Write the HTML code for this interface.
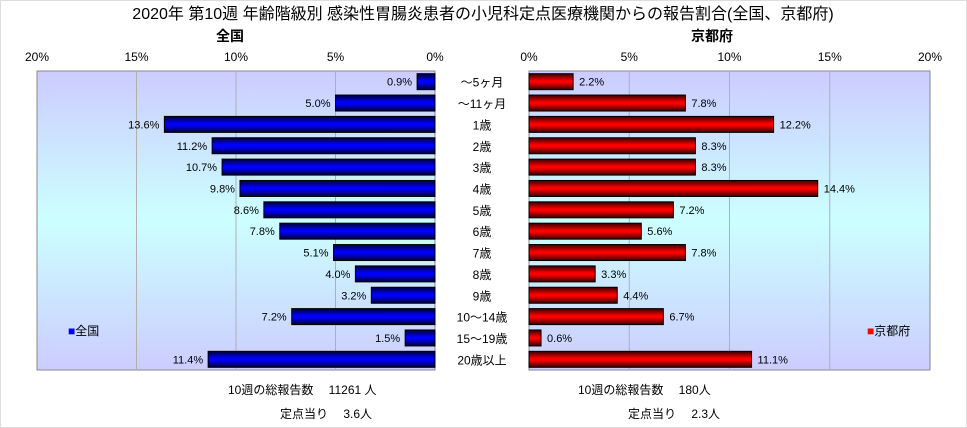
<!DOCTYPE html>
<html><head><meta charset="utf-8"><style>
body{margin:0;background:#fff;}
svg{display:block;font-family:"Liberation Sans","Noto Sans CJK JP",sans-serif;}
</style></head><body>
<svg id="chart" width="967" height="428">
<defs>
<linearGradient id="bg" x1="0" y1="0" x2="0" y2="1">
<stop offset="0" stop-color="#ccccff"/><stop offset="0.5" stop-color="#ccffff"/><stop offset="1" stop-color="#ccccff"/>
</linearGradient>
<linearGradient id="gb" x1="0" y1="0" x2="0" y2="1">
<stop offset="0" stop-color="#000033"/><stop offset="0.45" stop-color="#0000ff"/><stop offset="0.55" stop-color="#0000ff"/><stop offset="1" stop-color="#000033"/>
</linearGradient>
<linearGradient id="gr" x1="0" y1="0" x2="0" y2="1">
<stop offset="0" stop-color="#330000"/><stop offset="0.45" stop-color="#ff0000"/><stop offset="0.55" stop-color="#ff0000"/><stop offset="1" stop-color="#330000"/>
</linearGradient>
</defs>
<rect x="0.5" y="0.5" width="966" height="427" fill="#fff" stroke="#dddddd"/>
<text x="483" y="19" font-size="16" text-anchor="middle">2020年 第10週 年齢階級別 感染性胃腸炎患者の小児科定点医療機関からの報告割合(全国、京都府)</text>
<text x="230" y="41" font-size="14" font-weight="bold" text-anchor="middle">全国</text>
<text x="712" y="41" font-size="14" font-weight="bold" text-anchor="middle">京都府</text>
<rect x="37" y="71" width="398" height="299" fill="url(#bg)" stroke="#888"/>
<rect x="529" y="71" width="401" height="299" fill="url(#bg)" stroke="#888"/>
<g id="layer"></g>
<text x="68" y="335" font-size="12"><tspan fill="#0000ff">■</tspan>全国</text>
<text x="867" y="335" font-size="12"><tspan fill="#ff0000">■</tspan>京都府</text>
<text x="228" y="394" font-size="12">10週の総報告数　 11261 人</text>
<text x="280" y="418" font-size="12">定点当り　 3.6人</text>
<text x="578" y="394" font-size="12">10週の総報告数　 180人</text>
<text x="628" y="418" font-size="12">定点当り　 2.3人</text>
</svg>
<script>
const categories=["～5ヶ月","～11ヶ月","1歳","2歳","3歳","4歳","5歳","6歳","7歳","8歳","9歳","10～14歳","15～19歳","20歳以上"];
const nationalValues=[0.9,5.0,13.6,11.2,10.7,9.8,8.6,7.8,5.1,4.0,3.2,7.2,1.5,11.4];
const kyotoValues=[2.2,7.8,12.2,8.3,8.3,14.4,7.2,5.6,7.8,3.3,4.4,6.7,0.6,11.1];
const tickValues=[0,5,10,15,20];
const NS="http://www.w3.org/2000/svg";
const g=document.getElementById('layer');
const top0=71,bot0=370,band=(bot0-top0)/categories.length;
const xL=v=>435-v*(398/20);
const xR=v=>529+v*(401/20);
const yC=i=>top0+band*(i+0.5);
function mk(tag,at){const e=document.createElementNS(NS,tag);for(const k in at)e.setAttribute(k,at[k]);g.appendChild(e);return e;}
tickValues.forEach(t=>{
  if(t>0&&t<20){
    const l1=mk('line',{x1:xL(t),x2:xL(t),y1:top0,y2:bot0,stroke:'#b0b0b0'});
    
    
    const l2=mk('line',{x1:xR(t),x2:xR(t),y1:top0,y2:bot0,stroke:'#b0b0b0'});
    
    
  }
  const a=mk('text',{x:xL(t),y:61,'font-size':12,'text-anchor':'middle'});a.textContent=t+'%';
  
  
  const b=mk('text',{x:xR(t),y:61,'font-size':12,'text-anchor':'middle'});b.textContent=t+'%';
  
  
});
categories.forEach((c,i)=>{
  const y=yC(i),h=16;
  const cl=mk('text',{x:482,y:y+5,'font-size':12,'text-anchor':'middle'});cl.textContent=c;
  
  
  const v=nationalValues[i];
  const r=mk('rect',{x:xL(v),y:y-h/2,width:435-xL(v),height:h,fill:'url(#gb)',stroke:'#000','stroke-width':1});
  
  
  const t=mk('text',{x:xL(v)-5,y:y+4,'font-size':11,'text-anchor':'end'});t.textContent=v.toFixed(1)+'%';
  
  
  const k=kyotoValues[i];
  const r2=mk('rect',{x:529,y:y-h/2,width:xR(k)-529,height:h,fill:'url(#gr)',stroke:'#000','stroke-width':1});
  
  
  const t2=mk('text',{x:xR(k)+6,y:y+4,'font-size':11});t2.textContent=k.toFixed(1)+'%';
  
  
});
</script>
</body></html>
